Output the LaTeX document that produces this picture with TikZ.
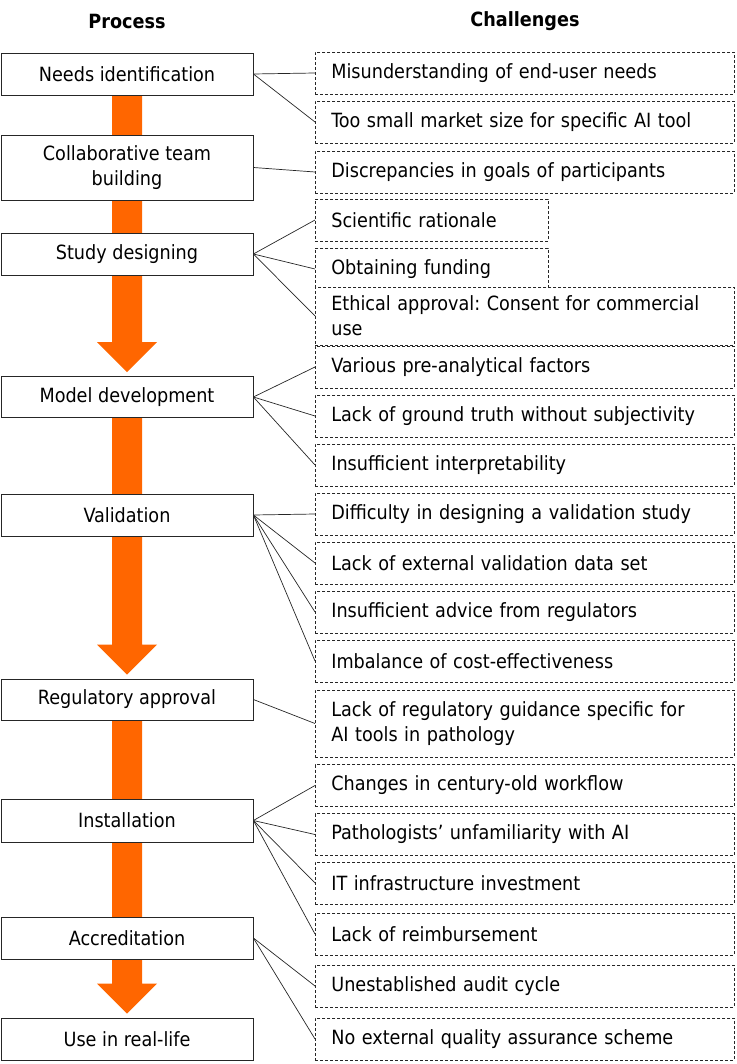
\documentclass[tikz,border=0pt]{standalone}
\usepackage{fontspec}
\setmainfont{DejaVu Sans Condensed}
\usetikzlibrary{calc}
\usetikzlibrary{backgrounds}
\definecolor{flow}{HTML}{FF6600}
\frenchspacing

\begin{document}
\begin{tikzpicture}[x=1pt,y=-1pt,
    procbox/.style={draw=black!85,fill=white,line width=0.8pt,minimum width=252pt,
        inner sep=0pt,align=center,font=\fontsize{19.6}{25}\selectfont},
    challbox/.style={draw=black!85,fill=white,line width=0.7pt,dash pattern=on 3pt off 2pt,
        anchor=west,inner xsep=16pt,inner ysep=0pt,minimum height=42pt,text width=387pt,
        align=left,font=\fontsize{19.6}{25}\selectfont},
    shortbox/.style={challbox,text width=201pt},
    headtxt/.style={font=\fontsize{19.6}{22}\selectfont\bfseries},
    link/.style={draw=black!85,line width=0.7pt}]
    \useasboundingbox (0,0) rectangle (736,1064);
    \node[headtxt] (hproc) at (127,21) {Process};
    \node[headtxt] (hchal) at (525,21) {Challenges};
    % process steps
    \foreach \n/\y/\h/\t in {need/74/42/{Needs identification},
        team/167.5/65/{Collaborative team\\building},
        study/254/42/{Study designing},
        model/397/41/{Model development},
        valid/515/42/{Validation},
        reg/699.5/41/{Regulatory approval},
        inst/820.5/43/{Installation},
        accr/938/42/{Accreditation},
        use/1039/42/{Use in real-life}}
        \node[procbox,minimum height=\h pt] (\n) at (127,\y) {\t};
    % challenges
    \foreach \n/\y/\t in {c1/73/{Misunderstanding of end-user needs},
        c2/122/{Too small market size for specific AI tool},
        c3/172/{Discrepancies in goals of participants},
        c7/367/{Various pre-analytical factors},
        c8/416/{Lack of ground truth without subjectivity},
        c9/465/{Insufficient interpretability},
        c10/514/{Difficulty in designing a validation study},
        c11/563/{Lack of external validation data set},
        c12/612/{Insufficient advice from regulators},
        c13/661/{Imbalance of cost-effectiveness},
        c15/785.5/{Changes in century-old workflow},
        c16/834.5/{Pathologists’ unfamiliarity with AI},
        c17/883/{IT infrastructure investment},
        c18/934/{Lack of reimbursement},
        c19/986/{Unestablished audit cycle},
        c20/1039/{No external quality assurance scheme}}
        \node[challbox] (\n) at (315,\y) {\t};
    \node[shortbox] (c4) at (315,220) {Scientific rationale};
    \node[shortbox] (c5) at (315,269) {Obtaining funding};
    \node[challbox,minimum height=58pt] (c6) at (315,316) {Ethical approval: Consent for commercial\\use};
    \node[challbox,minimum height=67pt] (c14) at (315,723.5) {Lack of regulatory guidance specific for\\AI tools in pathology};
    % links
    \foreach \s/\t in {need/c1,need/c2,team/c3,study/c4,study/c5,study/c6,
        model/c7,model/c8,model/c9,valid/c10,valid/c11,valid/c12,valid/c13,
        reg/c14,inst/c15,inst/c16,inst/c17,inst/c18,accr/c19,accr/c20}
        \draw[link] (\s.east) -- (\t.west);
    % big orange arrows behind the steps
    \begin{scope}[on background layer]
        \foreach \s/\t in {need/model,model/reg,reg/use}
            \fill[flow] ($(\s.south)+(-15,0)$) -- ($(\t.north)+(-15,-34)$)
                -- ($(\t.north)+(-30,-34)$) -- ($(\t.north)+(0,-4)$)
                -- ($(\t.north)+(30,-34)$) -- ($(\t.north)+(15,-34)$)
                -- ($(\s.south)+(15,0)$) -- cycle;
    \end{scope}
\end{tikzpicture}
\end{document}
